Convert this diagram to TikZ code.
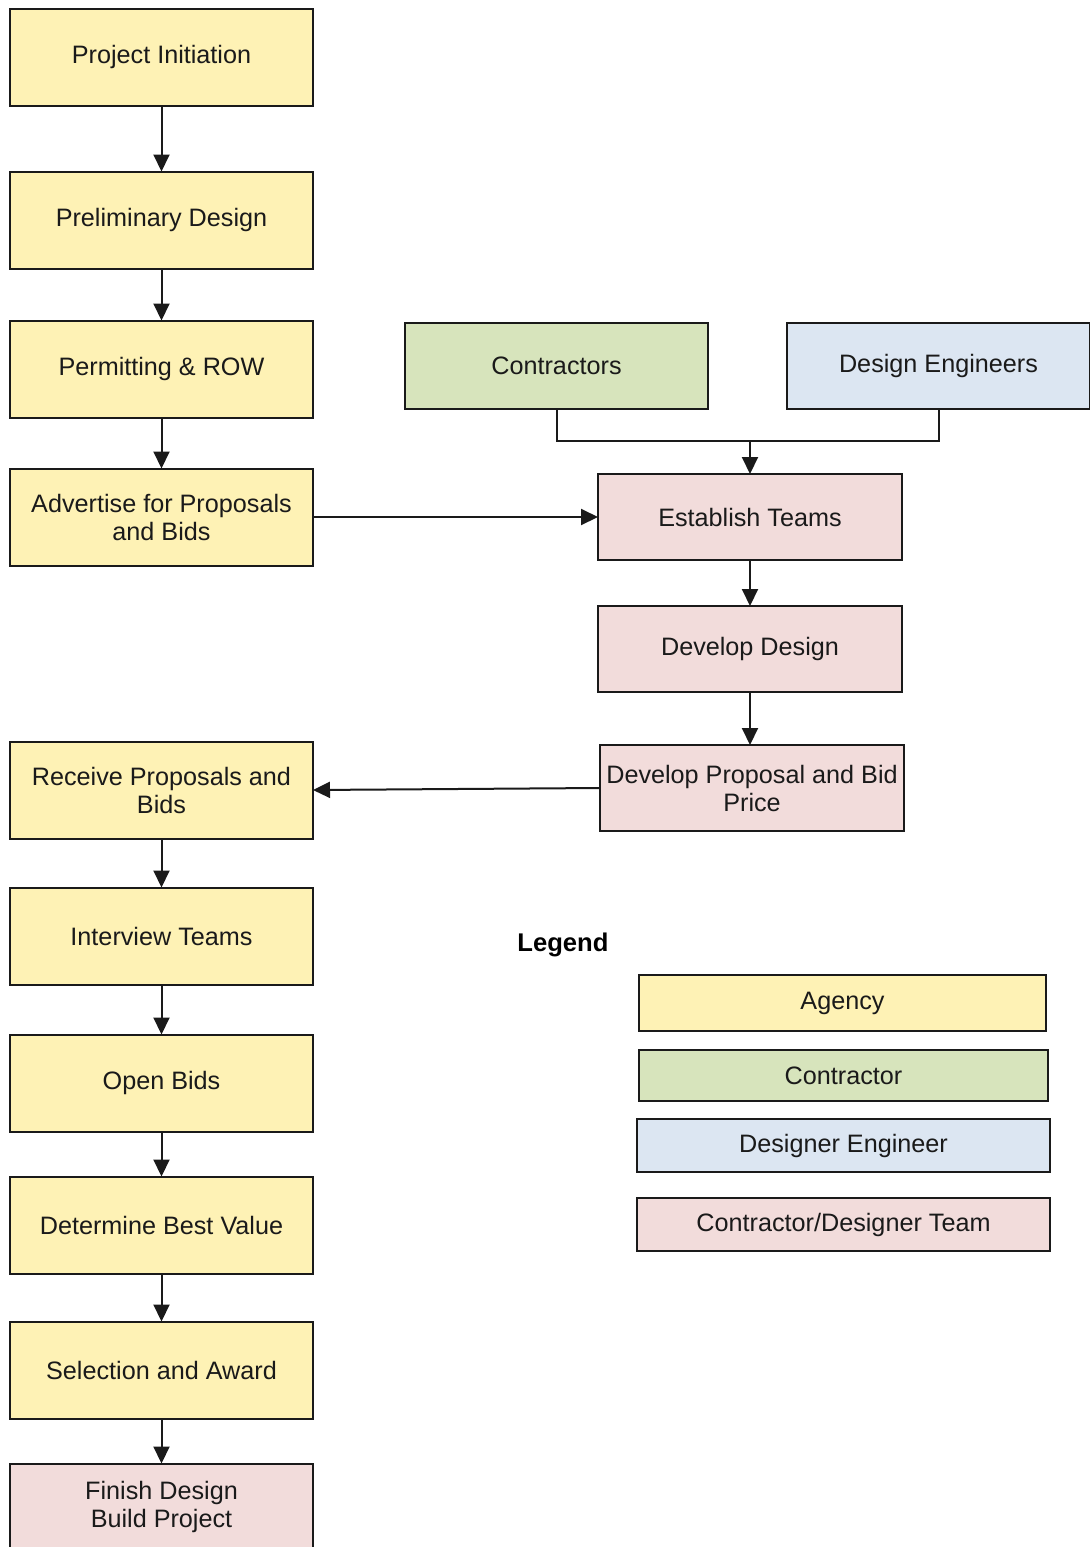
\documentclass[tikz,border=0pt]{standalone}
\usepackage{fontspec}
\setmainfont{Liberation Sans}
\usepackage{xcolor}
\usetikzlibrary{arrows.meta,positioning}
\definecolor{ink}{HTML}{1A1A1A}
\definecolor{agencyfill}{HTML}{FEF2B5}
\definecolor{contrfill}{HTML}{D7E4BC}
\definecolor{engfill}{HTML}{DCE6F2}
\definecolor{teamfill}{HTML}{F2DCDB}
\tikzset{
  every node/.style={font=\fontsize{12.6}{14}\selectfont},
  box/.style={draw=ink, line width=1pt, align=center, inner sep=0pt, outer sep=0pt, minimum width=151.5pt, minimum height=48.5pt, text=ink},
  agencybox/.style={box, fill=agencyfill},
  contrbox/.style={box, fill=contrfill, minimum height=43pt},
  engbox/.style={box, fill=engfill, minimum height=43pt},
  teambox/.style={box, fill=teamfill, minimum width=152pt, minimum height=43pt},
  keybox/.style={box, minimum width=205pt, minimum height=26.5pt},
  legendtitle/.style={font=\fontsize{12.8}{14}\selectfont\bfseries, text=black, anchor=west, inner sep=0pt},
  arrow/.style={-{Triangle[length=8.5pt,width=8pt]}, line width=1pt, draw=ink},
  link/.style={line width=1pt, draw=ink},
}
\begin{document}
\begin{tikzpicture}[x=0.5pt, y=-0.5pt]
\useasboundingbox[fill=white] (0,0) rectangle (1089,1547);
% agency column
\node[agencybox] (pi) at (161.5,57) {Project Initiation};
\node[agencybox, below=33pt of pi] (pd) {Preliminary Design};
\node[agencybox, below=26pt of pd] (pr) {Permitting \& ROW};
\node[agencybox, below=25.5pt of pr] (ad) {Advertise for Proposals\\and Bids};
\node[agencybox, below=88pt of ad] (rp) {Receive Proposals and\\Bids};
\node[agencybox, below=24.5pt of rp] (it) {Interview Teams};
\node[agencybox, below=25pt of it] (ob) {Open Bids};
\node[agencybox, below=22.5pt of ob] (db) {Determine Best Value};
\node[agencybox, below=24pt of db] (sa) {Selection and Award};
\node[teambox, minimum width=151.5pt, minimum height=43.5pt, below=22.5pt of sa] (fd) {Finish Design\\Build Project};
\draw[arrow](pi)--(pd);\draw[arrow](pd)--(pr);\draw[arrow](pr)--(ad);
\draw[arrow](rp)--(it);\draw[arrow](it)--(ob);\draw[arrow](ob)--(db);\draw[arrow](db)--(sa);\draw[arrow](sa)--(fd);
% team column
\node[teambox, right=142.5pt of ad] (et) {Establish Teams};
\node[contrbox, above=32.5pt of et, xshift=-96.75pt] (co) {Contractors};
\node[engbox, above=32.5pt of et, xshift=94.25pt] (de) {Design Engineers};
\node[teambox, below=23pt of et] (dd) {Develop Design};
\node[teambox, below=26.5pt of dd, xshift=1pt] (dp) {Develop Proposal and Bid\\Price};
\coordinate[above=16.5pt of et] (jn);
\draw[link](co.south)|-(jn)-|(de.south);
\draw[arrow](jn)--(et.north);
\draw[arrow](ad.east)--(et.west);
\draw[arrow](et)--(dd);
\draw[arrow](dd.south)--(dd.south|-dp.north);
\draw[arrow](dp.west)--(rp.east);
% legend
\node[legendtitle] (lg) at (517,945) {Legend};
\node[keybox, fill=agencyfill, minimum width=203.5pt, minimum height=28pt] (kag) at (842.5,1003) {Agency};
\node[keybox, fill=contrfill, minimum width=204.5pt, minimum height=25.5pt, below=9.5pt of kag, xshift=0.5pt] (kco) {Contractor};
\node[keybox, fill=engfill, minimum width=206.5pt, below=9pt of kco] (ken) {Designer Engineer};
\node[keybox, fill=teamfill, minimum width=206.5pt, below=13pt of ken] (ktm) {Contractor/Designer Team};
\end{tikzpicture}
\end{document}
